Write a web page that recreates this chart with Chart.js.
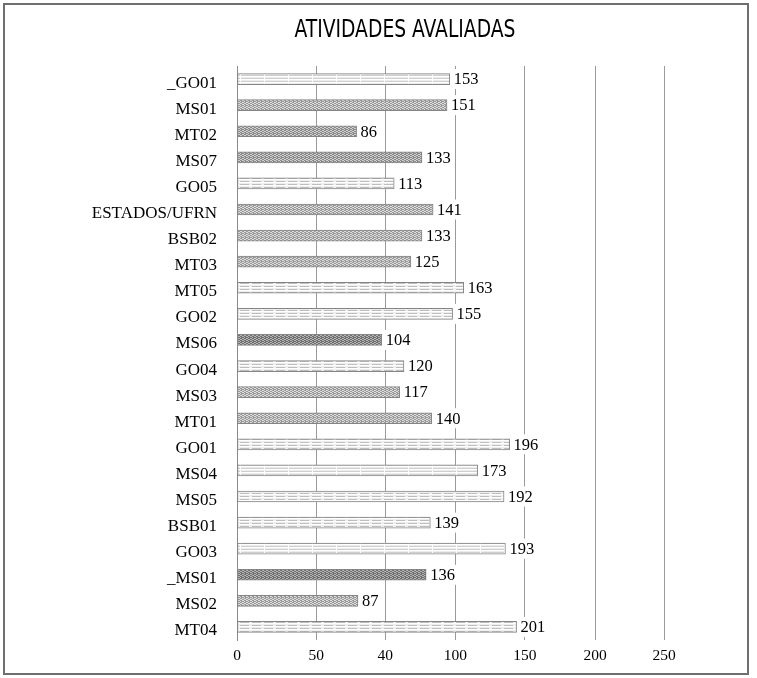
<!DOCTYPE html>
<html>
<head>
<meta charset="utf-8">
<script src="https://cdn.jsdelivr.net/npm/chart.js@4.4.1/dist/chart.umd.min.js"></script>
<style>
  html, body { margin: 0; padding: 0; background: #fff; }
  #wrap { position: relative; width: 757px; height: 678px; }
  #frame { position: absolute; left: 3px; top: 3px; width: 742px; height: 668px; border: 2px solid #6f6f6f; }
  #chart { position: absolute; left: 0; top: 0; }
</style>
</head>
<body>
<div id="wrap">
  <div id="frame"></div>
  <canvas id="chart" width="757" height="678"></canvas>
</div>
<script>
        // Chart data
        const chartTitle = 'ATIVIDADES AVALIADAS';
        const categories = ['_GO01', 'MS01', 'MT02', 'MS07', 'GO05', 'ESTADOS/UFRN', 'BSB02', 'MT03', 'MT05', 'GO02', 'MS06',
            'GO04', 'MS03', 'MT01', 'GO01', 'MS04', 'MS05', 'BSB01', 'GO03', '_MS01', 'MS02', 'MT04'];
        const values = [153, 151, 86, 133, 113, 141, 133, 125, 163, 155, 104, 120, 117, 140, 196, 173, 192, 139, 193, 136, 87, 201];
        // axis labels as printed on the original (gridlines are not evenly spaced there)
        const tickLabels = ['0', '50', '40', '100', '150', '200', '250'];
        const tickValues = [0, 57, 106.5, 157, 207, 257.5, 307];

        // Fill pattern of each bar, top to bottom
        const barFill = ['lines', 'wave', 'dense', 'dense', 'dashes', 'wave', 'wave', 'wave', 'dashes', 'dashes', 'dark',
            'dashes', 'wave', 'wave', 'dashes', 'lines', 'dashes', 'dashes', 'lines', 'dark', 'wave', 'dashes'];

        function makePattern(kind) {
            const c = document.createElement('canvas');
            const g = c.getContext('2d');
            if (kind === 'lines') {
                c.width = 24; c.height = 3;
                g.fillStyle = '#ececec'; g.fillRect(0, 0, 24, 3);
                g.fillStyle = '#cfcfcf'; g.fillRect(0, 0, 24, 1);
                g.fillStyle = '#ffffff'; g.fillRect(0, 1, 24, 1);
                g.fillStyle = '#ffffff'; g.fillRect(0, 0, 1, 3);
            } else if (kind === 'dashes') {
                c.width = 12; c.height = 3;
                g.fillStyle = '#eeeeee'; g.fillRect(0, 0, 12, 3);
                g.fillStyle = '#bdbdbd'; g.fillRect(0, 1, 9, 1);
                g.fillStyle = '#ffffff'; g.fillRect(0, 2, 12, 1);
            } else {
                const cols = {
                    wave: ['#9a9a9a', '#dcdcdc'],
                    dense: ['#8a8a8a', '#cfcfcf'],
                    dark: ['#6e6e6e', '#b4b4b4']
                }[kind];
                c.width = 4; c.height = 4;
                g.fillStyle = cols[1]; g.fillRect(0, 0, 4, 4);
                g.fillStyle = cols[0];
                g.fillRect(0, 0, 2, 1); g.fillRect(2, 1, 2, 1);
                g.fillRect(0, 2, 2, 1); g.fillRect(2, 3, 2, 1);
                g.fillRect(1, 1, 1, 1); g.fillRect(3, 3, 1, 1);
            }
            return g.createPattern(c, 'repeat');
        }

        const serif = '"Liberation Serif", "DejaVu Serif", serif';

        // Title drawn above the plot, squeezed to the narrow width of the original face
        const titlePlugin = {
            id: 'titleText',
            afterDraw(chart) {
                const ctx = chart.ctx;
                ctx.save();
                ctx.font = '24px "Liberation Sans Narrow", "DejaVu Sans Condensed", "Liberation Sans", sans-serif';
                ctx.fillStyle = '#000';
                ctx.textAlign = 'center';
                ctx.textBaseline = 'middle';
                const w = ctx.measureText(chartTitle).width;
                ctx.translate(405, 31);
                ctx.scale(Math.min(1, 221 / w), 1);
                ctx.fillText(chartTitle, 0, 0);
                ctx.restore();
            }
        };

        // Value labels at the end of each bar, on a white box
        const valueLabels = {
            id: 'valueLabels',
            afterDatasetsDraw(chart) {
                const ctx = chart.ctx;
                const meta = chart.getDatasetMeta(0);
                ctx.save();
                ctx.font = '16.5px ' + serif;
                ctx.textBaseline = 'middle';
                ctx.textAlign = 'left';
                meta.data.forEach((bar, i) => {
                    const txt = String(values[i]);
                    const w = ctx.measureText(txt).width;
                    ctx.fillStyle = '#fff';
                    ctx.fillRect(bar.x + 2, bar.y - 10, w + 4, 20);
                    ctx.fillStyle = '#000';
                    ctx.fillText(txt, bar.x + 4, bar.y + 1);
                });
                ctx.restore();
            }
        };

        const ctx = document.getElementById('chart').getContext('2d');
        const chart = new Chart(ctx, {
            type: 'bar',
            data: {
                labels: categories,
                datasets: [{
                    data: values,
                    backgroundColor: barFill.map(makePattern),
                    borderColor: '#858585',
                    borderWidth: 1,
                    barThickness: 11,
                    borderSkipped: false
                }]
            },
            options: {
                indexAxis: 'y',
                responsive: false,
                animation: false,
                layout: { padding: { top: 66, right: 61, bottom: 0, left: 0 } },
                plugins: {
                    legend: { display: false },
                    tooltip: { enabled: false }
                },
                scales: {
                    x: {
                        min: 0,
                        max: 330,
                        afterBuildTicks(scale) {
                            scale.ticks = tickValues.map(v => ({ value: v }));
                        },
                        afterFit(scale) { scale.height = 38; },
                        grid: { color: '#9a9a9a', drawTicks: false, tickLength: 0 },
                        border: { display: false },
                        ticks: {
                            padding: 7,
                            color: '#000',
                            font: { family: serif, size: 15.5 },
                            callback: (v, i) => tickLabels[i]
                        }
                    },
                    y: {
                        afterFit(scale) { scale.width = 237; },
                        grid: { display: false, drawTicks: false, tickLength: 0 },
                        border: { display: true, color: '#8a8a8a' },
                        ticks: {
                            padding: 20,
                            labelOffset: 4,
                            color: '#000',
                            font: { family: serif, size: 17 }
                        }
                    }
                }
            },
            plugins: [titlePlugin, valueLabels]
        });
</script>
</body>
</html>
